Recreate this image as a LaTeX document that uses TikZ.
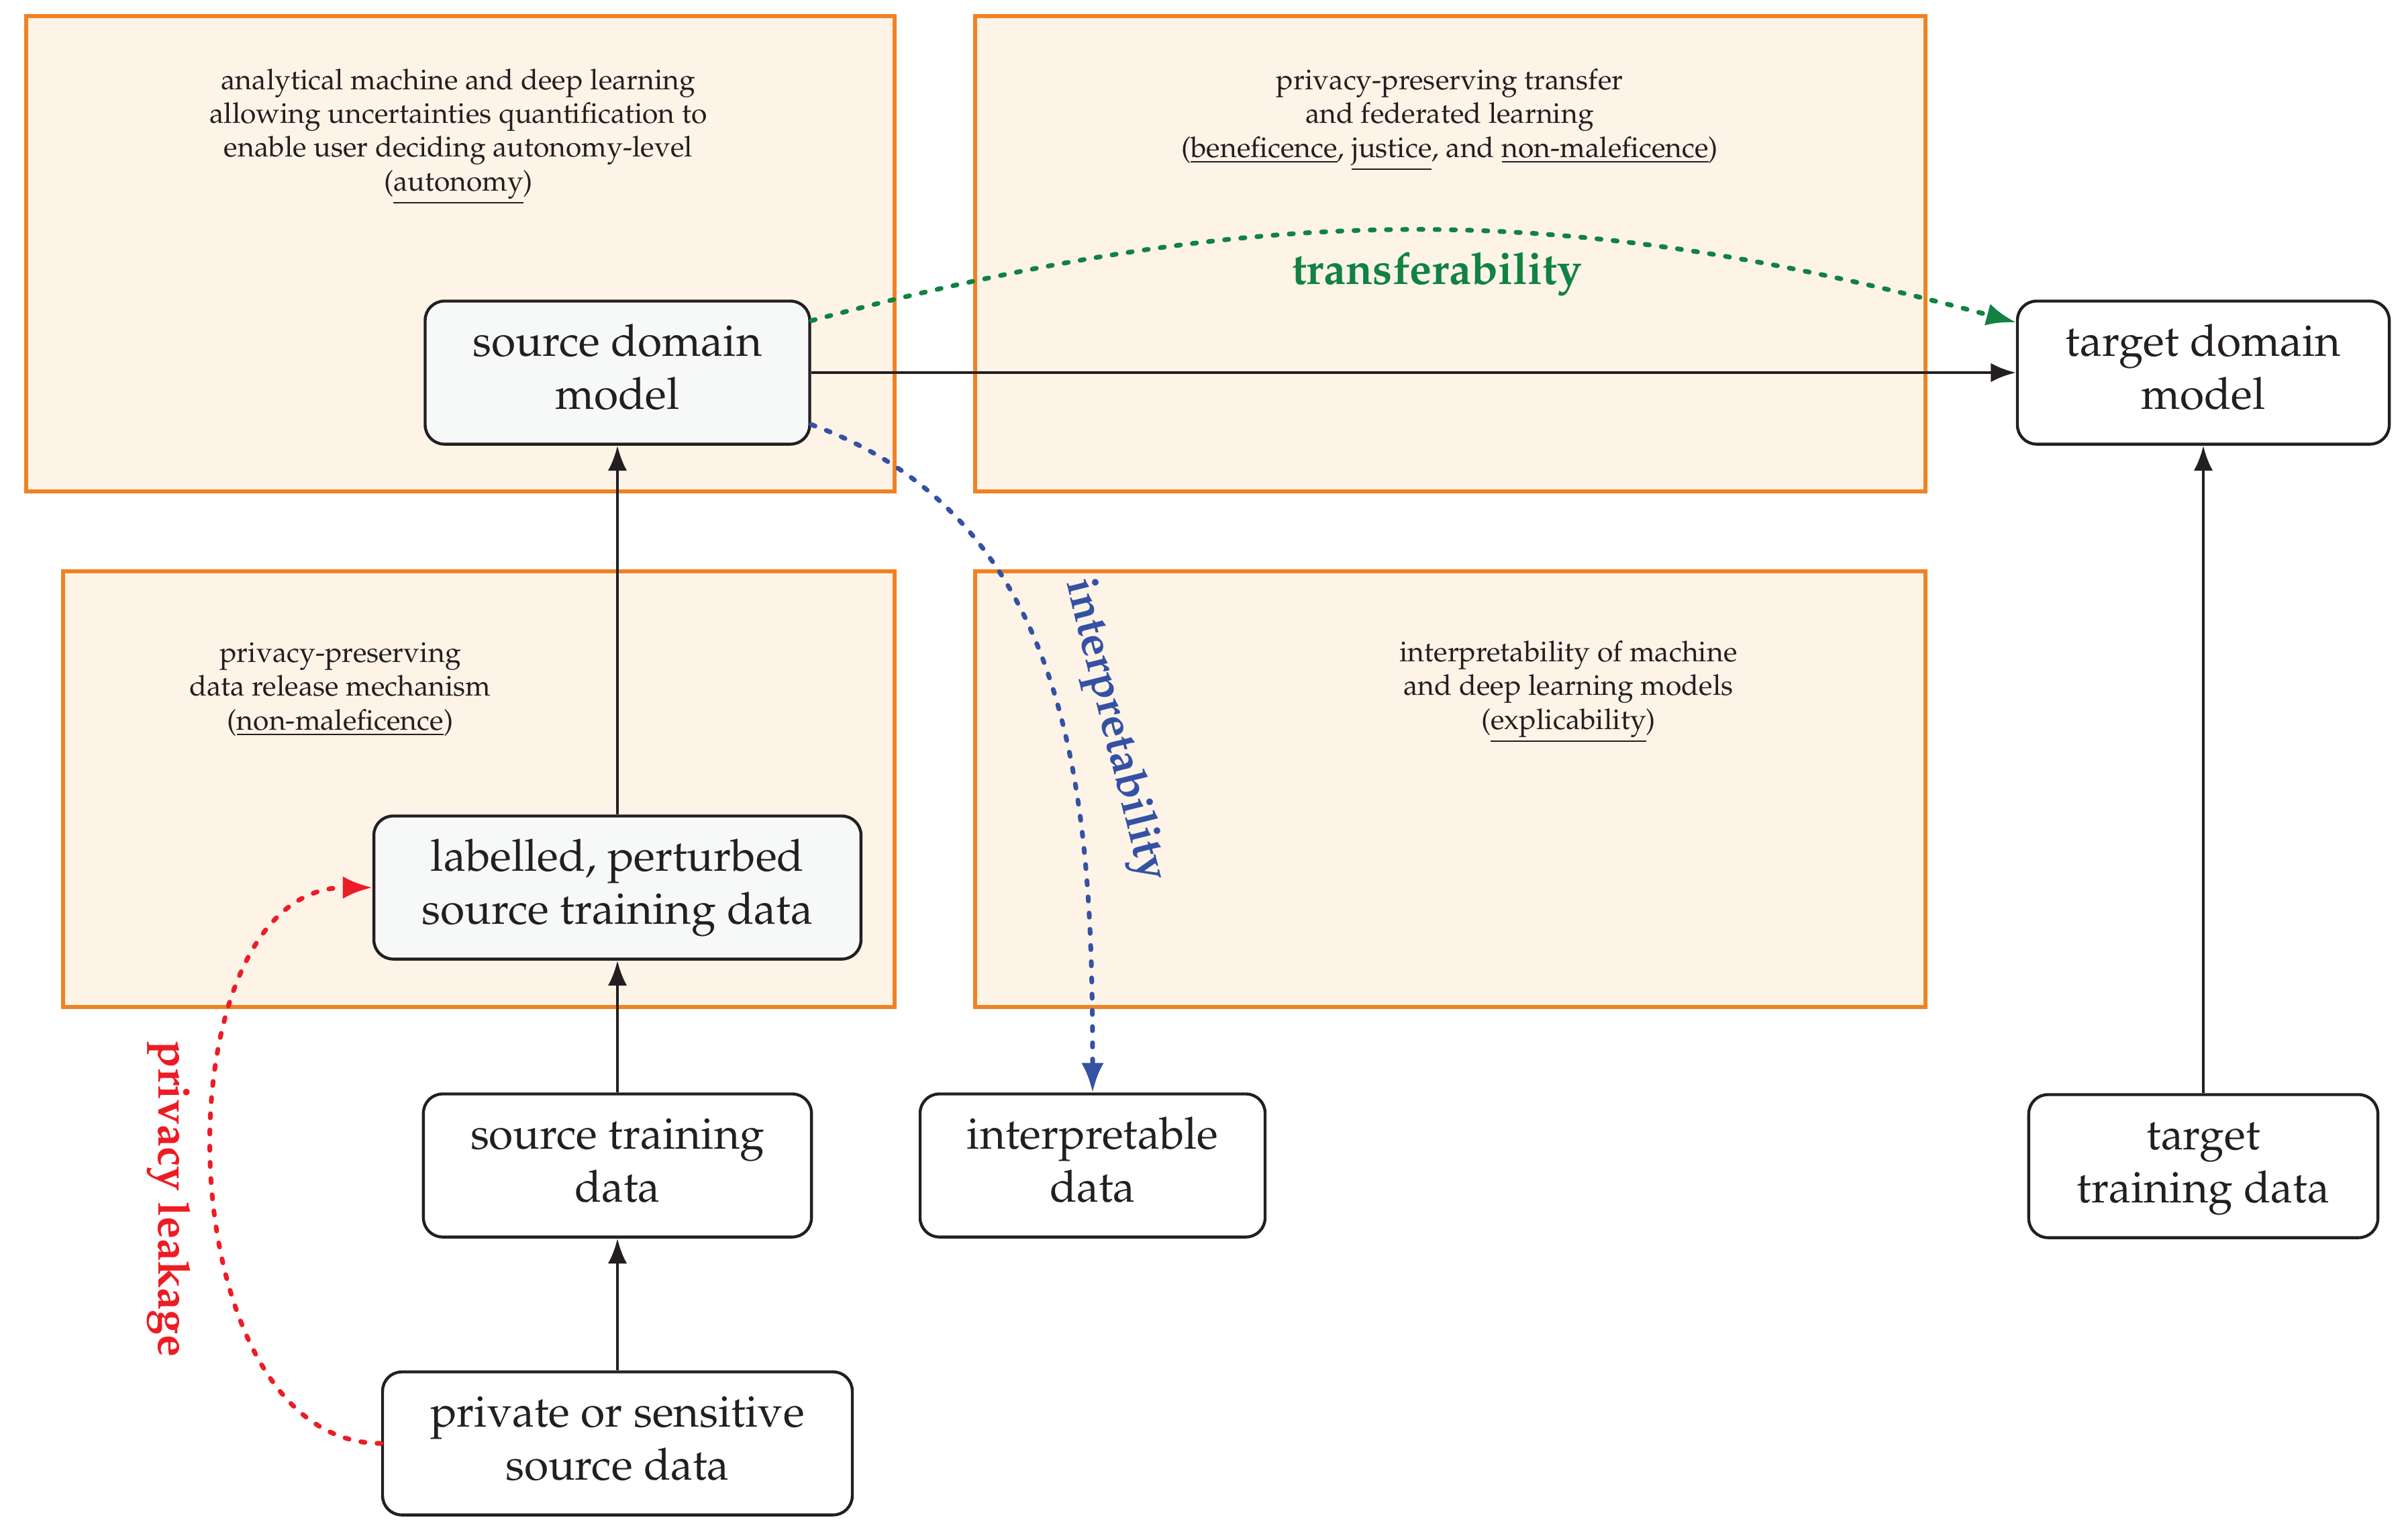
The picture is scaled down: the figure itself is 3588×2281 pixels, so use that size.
\documentclass[tikz,border=0pt]{standalone}
\usepackage[T1]{fontenc}
\usepackage{mathpazo}
\usetikzlibrary{arrows.meta}
\definecolor{boxorange}{RGB}{240,130,35}
\definecolor{boxfill}{RGB}{253,243,231}
\definecolor{nodegray}{RGB}{247,249,248}
\definecolor{ink}{RGB}{35,31,32}
\definecolor{tgreen}{RGB}{16,130,66}
\definecolor{iblue}{RGB}{52,81,163}
\definecolor{pred}{RGB}{237,28,36}
\begin{document}
\begin{tikzpicture}[x=0.2276pt,y=-0.2276pt,
  region/.style={draw=boxorange, fill=boxfill, line width=1.5pt},
  regionlabel/.style={align=center, anchor=base, inner sep=0pt, text=ink, font=\fontsize{9.7}{11.45}\selectfont},
  proc/.style={draw=ink, line width=1pt, rounded corners=6.5pt, align=center, inner sep=0pt,
     minimum height=48.5pt, text height=29pt, text depth=4pt,
     font=\fontsize{15}{18}\selectfont, text=ink, fill=white},
  procgray/.style={proc, fill=nodegray},
  arr/.style={draw=ink, line width=1.1pt, -{Latex[length=8.5pt,width=6.5pt]}},
  dotline/.style={line width=1.6pt, dash pattern=on 1.4pt off 4.1pt, line cap=round},
  ctip/.style={-{Latex[length=10pt,width=7.6pt]}},
  flowlabel/.style={font=\bfseries\fontsize{15}{18}\selectfont, inner sep=0pt}
]
\useasboundingbox (0,0) rectangle (3588,2281);

% regions
\path[region] (39,24) rectangle (1333,732);
\path[region] (1453,24) rectangle (2869,732);
\path[region] (94,851) rectangle (1333,1500);
\path[region] (1453,851) rectangle (2869,1500);

\node[regionlabel] (t1) at (683,284) {analytical machine and deep learning\\allowing uncertainties quantification to\\enable user deciding autonomy-level\\(\underline{autonomy})};
\node[regionlabel] (t2) at (2160,234) {privacy-preserving transfer\\and federated learning\\(\underline{beneficence}, \underline{justice}, and \underline{non-maleficence})};
\node[regionlabel] (t3) at (507,1087) {privacy-preserving\\data release mechanism\\(\underline{non-maleficence})};
\node[regionlabel] (t4) at (2337,1086) {interpretability of machine\\and deep learning models\\(\underline{explicability})};

% nodes
\node[procgray, minimum width=130.4pt] (src) at (920,555) {source domain\\model};
\node[proc, minimum width=126.1pt] (tgt) at (3283,555) {target domain\\model};
\node[procgray, minimum width=165.2pt] (lab) at (920,1322) {labelled, perturbed\\source training data};
\node[proc, minimum width=131.6pt] (std) at (920,1736) {source training\\data};
\node[proc, minimum width=159.3pt] (priv) at (920,2150) {private or sensitive\\source data};
\node[proc, minimum width=117pt] (interp) at (1628,1736) {interpretable\\data};
\node[proc, minimum width=118.4pt] (ttd) at (3283,1737) {target\\training data};

% connectors
\draw[arr] (priv) -- (std);
\draw[arr] (std) -- (lab);
\draw[arr] (lab) -- (src);
\draw[arr] (src) -- (tgt);
\draw[arr] (ttd) -- (tgt);

\draw[dotline, draw=tgreen, ctip] (src.15) to[bend left=15] (tgt.165);
\draw[dotline, draw=iblue, ctip] (src.-15) to[out=-20,in=90] (interp.north);
\draw[dotline, draw=pred, ctip] (priv.west) to[out=180,in=180] (lab.west);

\node[flowlabel, text=tgreen] (ltr) at (2141,408) {transferability};
\node[flowlabel, text=iblue, rotate=-76] (lin) at (1660,1088) {interpretability};
\node[flowlabel, text=pred, rotate=-90] (lpr) at (252,1786) {privacy leakage};
\end{tikzpicture}
\end{document}
